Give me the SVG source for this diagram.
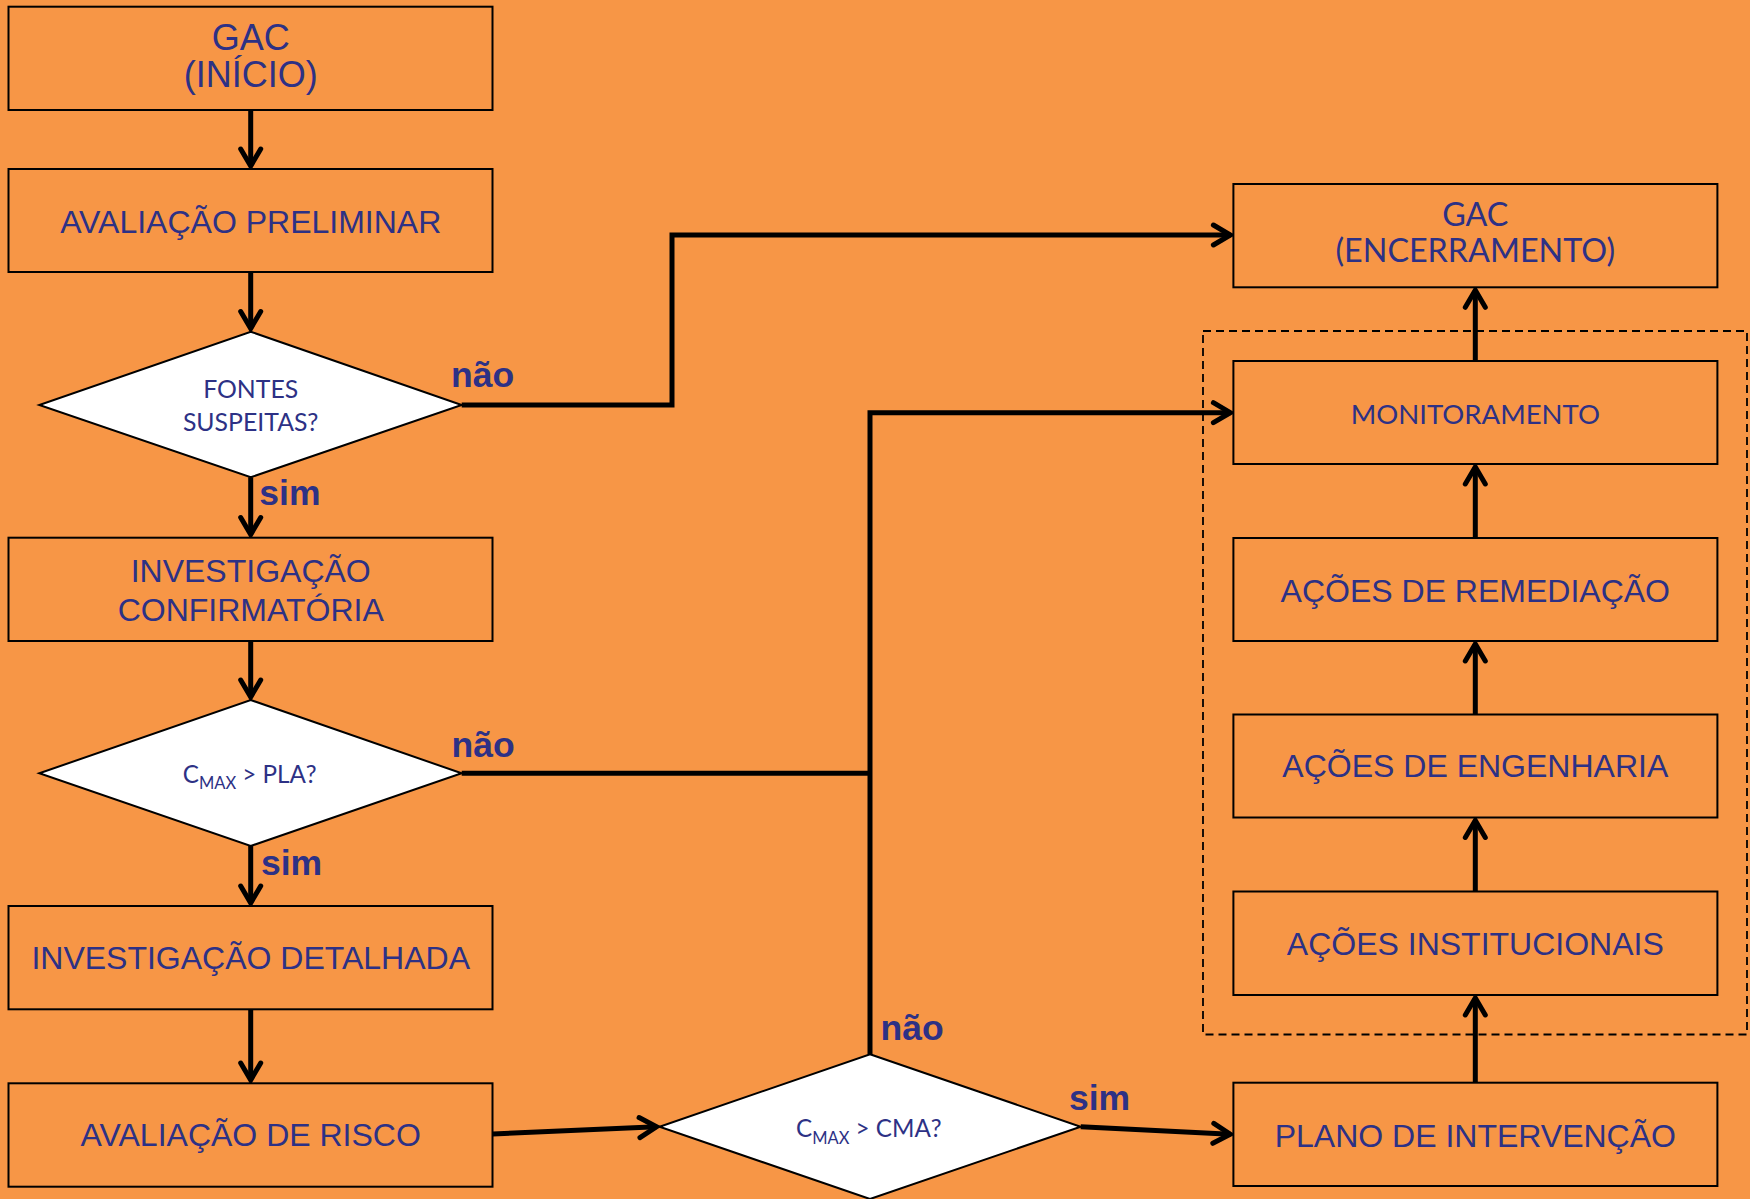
<svg xmlns="http://www.w3.org/2000/svg" width="1750" height="1199" viewBox="0 0 1750 1199">
<defs>
<style>
.box{fill:#F79646;stroke:#000;stroke-width:2}
.dia{fill:#fff;stroke:#000;stroke-width:2}
.t{font-family:"Liberation Sans",Arial,sans-serif;font-size:32px;fill:#2D3185;text-anchor:middle}
.t36{font-size:36px}
.c{font-family:Lato,"Open Sans",sans-serif;fill:#2D3185;text-anchor:middle}
.lbl{font-family:"Liberation Sans",Arial,sans-serif;font-weight:bold;font-size:35.5px;fill:#2D3185}
.edge{fill:none;stroke:#000;stroke-width:5;stroke-linejoin:miter}
.arr{marker-end:url(#ah)}
</style>
<marker id="ah" markerUnits="userSpaceOnUse" markerWidth="40" markerHeight="40" viewBox="-25 -20 40 40" refX="0" refY="0" orient="auto" overflow="visible">
<path d="M-17,-10 L0,0 L-17,10" fill="none" stroke="#000" stroke-width="5" stroke-linecap="round" stroke-linejoin="miter"/>
</marker>
</defs>
<rect width="1750" height="1199" fill="#F79646"/>

<g id="connectors">
<path class="edge arr" d="M250.7,110 V166"/>
<path class="edge arr" d="M250.7,272 V328.5"/>
<path class="edge arr" d="M250.7,477.3 V534.5"/>
<path class="edge arr" d="M250.7,641 V697"/>
<path class="edge arr" d="M250.7,846 V903"/>
<path class="edge arr" d="M250.7,1009.3 V1080"/>
<path class="edge arr" d="M492.7,1134 L656.5,1126.8"/>
<path class="edge arr" d="M1080.7,1126.7 L1230.3,1134.2"/>
<path class="edge arr" d="M461.7,405 H672 V235 H1230.4"/>
<path class="edge" d="M461.7,773.3 H870"/>
<path class="edge arr" d="M870,1054.3 V412.7 H1230.4"/>
<path class="edge arr" d="M1475.3,1082.7 V998"/>
<path class="edge arr" d="M1475.3,891.5 V820.5"/>
<path class="edge arr" d="M1475.3,714.5 V644"/>
<path class="edge arr" d="M1475.3,538 V467"/>
<path class="edge arr" d="M1475.3,361 V290.3"/>
</g>

<rect id="group-acoes" x="1203" y="331" width="544" height="703.5" fill="none" stroke="#000" stroke-width="1.8" stroke-dasharray="8,5"/>

<g id="gac-inicio">
<rect class="box" x="8.5" y="6.7" width="484" height="103.3"/>
<text class="t t36" x="250.7" y="50">GAC</text>
<text class="t t36" x="250.7" y="86.5">(INÍCIO)</text>
</g>
<g id="avaliacao-preliminar">
<rect class="box" x="8.5" y="169" width="484" height="103"/>
<text class="t" x="250.7" y="233.3">AVALIAÇÃO PRELIMINAR</text>
</g>
<g id="fontes-suspeitas">
<polygon class="dia" points="250.7,331.7 461.7,405 250.7,477.3 39.3,405"/>
<text class="c" x="250.7" y="398.3" font-size="24.8">FONTES</text>
<text class="c" x="250.7" y="431" font-size="24.8">SUSPEITAS?</text>
</g>
<g id="investigacao-confirmatoria">
<rect class="box" x="8.5" y="537.7" width="484" height="103.3"/>
<text class="t" x="250.7" y="581.7">INVESTIGAÇÃO</text>
<text class="t" x="250.7" y="620.7">CONFIRMATÓRIA</text>
</g>
<g id="cmax-pla">
<polygon class="dia" points="250.7,700 461.7,773.3 250.7,846 39.3,773.3"/>
<text class="c" x="249.7" y="782.7" font-size="24.2">C<tspan font-size="16.5" dy="6.5">MAX</tspan><tspan dy="-6.5"> &gt; PLA?</tspan></text>
</g>
<g id="investigacao-detalhada">
<rect class="box" x="8.5" y="906" width="484" height="103.3"/>
<text class="t" x="250.7" y="969.3">INVESTIGAÇÃO DETALHADA</text>
</g>
<g id="avaliacao-risco">
<rect class="box" x="8.5" y="1083.3" width="484" height="103.4"/>
<text class="t" x="250.7" y="1146">AVALIAÇÃO DE RISCO</text>
</g>
<g id="cmax-cma">
<polygon class="dia" points="870,1054.3 1080.7,1126.7 870,1199 659.5,1126.7"/>
<text class="c" x="868.8" y="1137.3" font-size="24.2">C<tspan font-size="16.5" dy="6.5">MAX</tspan><tspan dy="-6.5"> &gt; CMA?</tspan></text>
</g>
<g id="gac-encerramento">
<rect class="box" x="1233.4" y="184" width="484" height="103.3"/>
<text class="c" x="1475.3" y="226" font-size="32.3">GAC</text>
<text class="c" x="1475.3" y="261.7" font-size="32.3">(ENCERRAMENTO)</text>
</g>
<g id="monitoramento">
<rect class="box" x="1233.4" y="361" width="484" height="103"/>
<text class="c" x="1475.3" y="424" font-size="27.5">MONITORAMENTO</text>
</g>
<g id="acoes-remediacao">
<rect class="box" x="1233.4" y="538" width="484" height="103"/>
<text class="t" x="1475.3" y="601.6">AÇÕES DE REMEDIAÇÃO</text>
</g>
<g id="acoes-engenharia">
<rect class="box" x="1233.4" y="714.5" width="484" height="103"/>
<text class="t" x="1475.3" y="777.2">AÇÕES DE ENGENHARIA</text>
</g>
<g id="acoes-institucionais">
<rect class="box" x="1233.4" y="891.5" width="484" height="103.5"/>
<text class="t" x="1475.3" y="955.2">AÇÕES INSTITUCIONAIS</text>
</g>
<g id="plano-intervencao">
<rect class="box" x="1233.4" y="1082.7" width="484" height="103.3"/>
<text class="t" x="1475.3" y="1146.7">PLANO DE INTERVENÇÃO</text>
</g>

<g id="labels">
<text class="lbl" x="451" y="387.3">não</text>
<text class="lbl" x="259.3" y="505">sim</text>
<text class="lbl" x="451.5" y="756.7">não</text>
<text class="lbl" x="261" y="875">sim</text>
<text class="lbl" x="880.5" y="1040">não</text>
<text class="lbl" x="1069" y="1110">sim</text>
</g>
</svg>
